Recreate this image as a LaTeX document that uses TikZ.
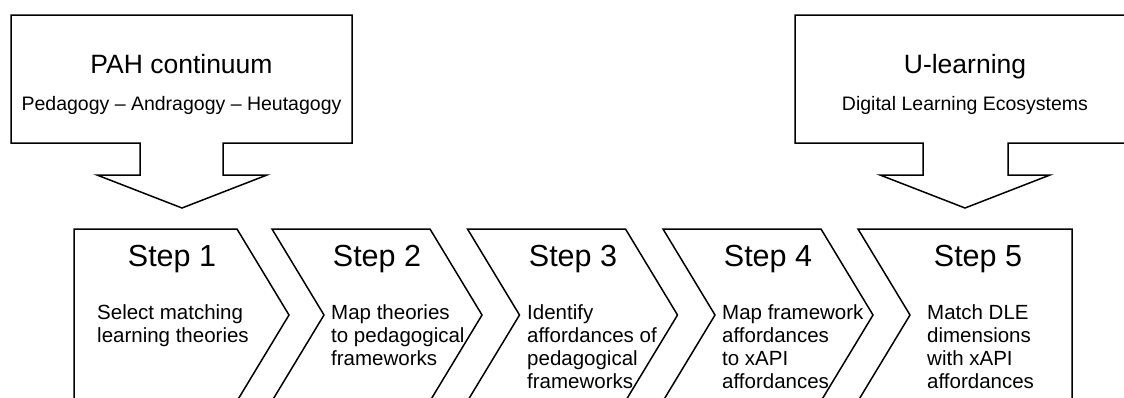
\documentclass[tikz,border=0pt]{standalone}
\usepackage{fontspec}
\setmainfont{Liberation Sans}
\begin{document}
\begin{tikzpicture}[x=1pt,y=-1pt,
  outl/.style={draw=black,line width=1.5pt,line join=miter,fill=white},
  ttl/.style={inner sep=0pt,anchor=base,font=\fontsize{26.5}{30}\selectfont},
  subttl/.style={inner sep=0pt,anchor=base,font=\fontsize{19.5}{23}\selectfont},
  steplbl/.style={inner sep=0pt,anchor=base,font=\fontsize{30.5}{34}\selectfont},
  bodytxt/.style={inner sep=0pt,anchor=base west,font=\fontsize{20.5}{23.3}\selectfont}]
\useasboundingbox (0,0) rectangle (1124,397);
\clip (0,0) rectangle (1124,397);
% callout shapes
\draw[outl] (11,15) -- (352,15) -- (352,143) -- (223,143) -- (223,175) -- (267,175) -- (182,208) -- (97,175) -- (140,175) -- (140,143) -- (11,143) -- cycle;
\draw[outl] (795,15) -- (1136,15) -- (1136,143) -- (1008,143) -- (1008,175) -- (1050,175) -- (965,208) -- (880,175) -- (923,175) -- (923,143) -- (795,143) -- cycle;
% chevrons
\draw[outl] (74,229) -- (237,229) -- (289,315) -- (237,401) -- (74,401) -- cycle;
\foreach \L in {272,467.5,663}{
  \draw[outl] (\L,229) -- ({\L+158},229) -- ({\L+210},315) -- ({\L+158},401) -- (\L,401) -- ({\L+52},315) -- cycle;
}
\draw[outl] (858,229) -- (1072,229) -- (1072,401) -- (858,401) -- (910,315) -- cycle;
% texts
\node[ttl] (t1) at (181.5,73) {PAH continuum};
\node[subttl] (s1) at (181.5,110) {Pedagogy – Andragogy – Heutagogy};
\node[ttl] (t2) at (965,73) {U-learning};
\node[subttl] (s2) at (965,110) {Digital Learning Ecosystems};
\node[steplbl] (st1) at (172,266) {Step 1};
\node[steplbl] (st2) at (377,266) {Step 2};
\node[steplbl] (st3) at (573,266) {Step 3};
\node[steplbl] (st4) at (768,266) {Step 4};
\node[steplbl] (st5) at (978,266) {Step 5};
\node[bodytxt] (b1) at (97,319) {\begin{tabular}[t]{@{}l@{}}Select matching\\learning theories\end{tabular}};
\node[bodytxt] (b2) at (331,319) {\begin{tabular}[t]{@{}l@{}}Map theories\\to pedagogical\\frameworks\end{tabular}};
\node[bodytxt] (b3) at (527,319) {\begin{tabular}[t]{@{}l@{}}Identify\\affordances of\\pedagogical\\frameworks\end{tabular}};
\node[bodytxt] (b4) at (722,319) {\begin{tabular}[t]{@{}l@{}}Map framework\\affordances\\to xAPI\\affordances\end{tabular}};
\node[bodytxt] (b5) at (927,319) {\begin{tabular}[t]{@{}l@{}}Match DLE\\dimensions\\with xAPI\\affordances\end{tabular}};
\end{tikzpicture}
\end{document}
